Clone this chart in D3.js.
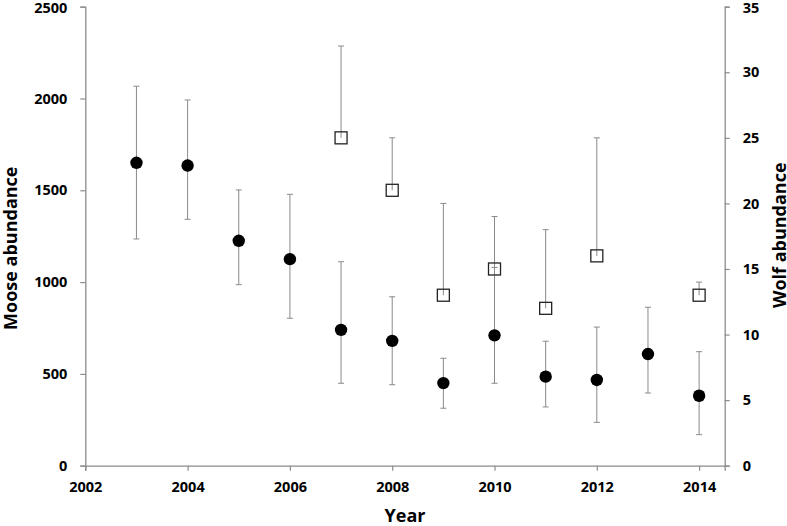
<!DOCTYPE html>
<html>
<head>
<meta charset="utf-8">
<script src="https://cdn.jsdelivr.net/npm/d3@7"></script>
<style>
  body { margin: 0; background: #fff; }
  text { font-family: "Open Sans", Lato, sans-serif; font-weight: bold; fill: #000; }
</style>
</head>
<body>
<script>
// moose estimates (left axis) with lower/upper error limits
let mooseYears = [2003, 2004, 2005, 2006, 2007, 2008, 2009, 2010, 2011, 2012, 2013, 2014]
let mooseValues = [1650, 1635, 1225, 1125, 740, 680, 450, 710, 485, 467, 608, 381]
let mooseLower = [1235, 1342, 986, 803, 449, 441, 313, 449, 320, 236, 396, 169]
let mooseUpper = [2067, 1992, 1502, 1478, 1111, 920, 585, 1080, 678, 755, 863, 621]

// wolf counts (right axis), only the upper bar is shown
let wolfYears = [2007, 2008, 2009, 2010, 2011, 2012, 2014]
let wolfValues = [25, 21, 13, 15, 12, 16, 13]
let wolfUpper = [32, 25, 20, 19, 18, 25, 14]

let xTicks = [2002, 2004, 2006, 2008, 2010, 2012, 2014]
let leftTicks = [0, 500, 1000, 1500, 2000, 2500]
let rightTicks = [0, 5, 10, 15, 20, 25, 30, 35]

let width = 787, height = 526
let margin = {top: 6.7, left: 85.3, right: 62.3, bottom: 60.3}
let axisColor = "#8c8c8c"

let svg = d3.select("body").append("svg")
    .attr("width", width)
    .attr("height", height)

let x = d3.scaleLinear()
    .domain([2002, 2014.5])
    .range([margin.left, width - margin.right])

let yL = d3.scaleLinear()
    .domain([0, 2500])
    .range([height - margin.bottom, margin.top])

let yR = d3.scaleLinear()
    .domain([0, 35])
    .range([height - margin.bottom, margin.top])

function styleAxis(g) {
    g.select(".domain").attr("stroke", axisColor).attr("stroke-width", 1.3)
    g.selectAll(".tick line").attr("stroke", axisColor).attr("stroke-width", 1.2)
    g.selectAll(".tick text").attr("font-size", 14.5).attr("fill", "#000")
        .style("font-family", "'Open Sans', sans-serif").style("font-weight", "bold")
}

svg.append("g")
    .attr("transform", `translate(0,${height - margin.bottom})`)
    .call(d3.axisBottom(x).tickValues(xTicks).tickFormat(d3.format("d")).tickSizeOuter(0).tickSize(5).tickPadding(11))
    .call(styleAxis)

svg.append("g")
    .attr("transform", `translate(${margin.left},0)`)
    .call(d3.axisLeft(yL).tickValues(leftTicks).tickFormat(d3.format("d")).tickSizeOuter(0).tickSize(5).tickPadding(13))
    .call(styleAxis)

svg.append("g")
    .attr("transform", `translate(${width - margin.right},0)`)
    .call(d3.axisRight(yR).tickValues(rightTicks).tickFormat(d3.format("d")).tickSizeOuter(0).tickSize(5).tickPadding(13))
    .call(styleAxis)

// keep the top labels inside the picture
svg.selectAll(".tick text").filter(d => d === 2500 || d === 35).attr("dy", "0.42em")

// error bars
let barColor = "#8a8a8a"
let cap = 3

let moose = mooseYears.map((yr, i) => ({yr, v: mooseValues[i], lo: mooseLower[i], hi: mooseUpper[i]}))
let wolves = wolfYears.map((yr, i) => ({yr, v: wolfValues[i], hi: wolfUpper[i]}))

let mBars = svg.append("g").selectAll("g").data(moose).enter().append("g")
    .attr("stroke", barColor).attr("stroke-width", 1)
mBars.append("line")
    .attr("x1", d => x(d.yr)).attr("x2", d => x(d.yr))
    .attr("y1", d => yL(d.lo)).attr("y2", d => yL(d.hi))
mBars.append("line")
    .attr("x1", d => x(d.yr) - cap).attr("x2", d => x(d.yr) + cap)
    .attr("y1", d => yL(d.hi)).attr("y2", d => yL(d.hi))
mBars.append("line")
    .attr("x1", d => x(d.yr) - cap).attr("x2", d => x(d.yr) + cap)
    .attr("y1", d => yL(d.lo)).attr("y2", d => yL(d.lo))

let wBars = svg.append("g").selectAll("g").data(wolves).enter().append("g")
    .attr("stroke", barColor).attr("stroke-width", 1)
wBars.append("line")
    .attr("x1", d => x(d.yr)).attr("x2", d => x(d.yr))
    .attr("y1", d => yR(d.v)).attr("y2", d => yR(d.hi))
wBars.append("line")
    .attr("x1", d => x(d.yr) - cap).attr("x2", d => x(d.yr) + cap)
    .attr("y1", d => yR(d.hi)).attr("y2", d => yR(d.hi))

// markers
svg.append("g").selectAll("circle")
    .data(moose).enter().append("circle")
    .attr("cx", d => x(d.yr))
    .attr("cy", d => yL(d.v))
    .attr("r", 6.2)
    .attr("fill", "#000")

let sq = 12
svg.append("g").selectAll("rect")
    .data(wolves).enter().append("rect")
    .attr("x", d => x(d.yr) - sq / 2)
    .attr("y", d => yR(d.v) - sq / 2)
    .attr("width", sq)
    .attr("height", sq)
    .attr("fill", "none")
    .attr("stroke", "#222")
    .attr("stroke-width", 1.3)

// axis titles
svg.append("text")
    .attr("x", (margin.left + width - margin.right) / 2)
    .attr("y", 522)
    .attr("text-anchor", "middle")
    .attr("font-size", 18)
    .text("Year")

svg.append("text")
    .attr("transform", `translate(16.5,${(margin.top + height - margin.bottom) / 2 + 12}) rotate(-90)`)
    .attr("text-anchor", "middle")
    .attr("font-size", 18)
    .text("Moose abundance")

svg.append("text")
    .attr("transform", `translate(786,${(margin.top + height - margin.bottom) / 2 - 1}) rotate(-90)`)
    .attr("text-anchor", "middle")
    .attr("font-size", 18)
    .text("Wolf abundance")
</script>
</body>
</html>
